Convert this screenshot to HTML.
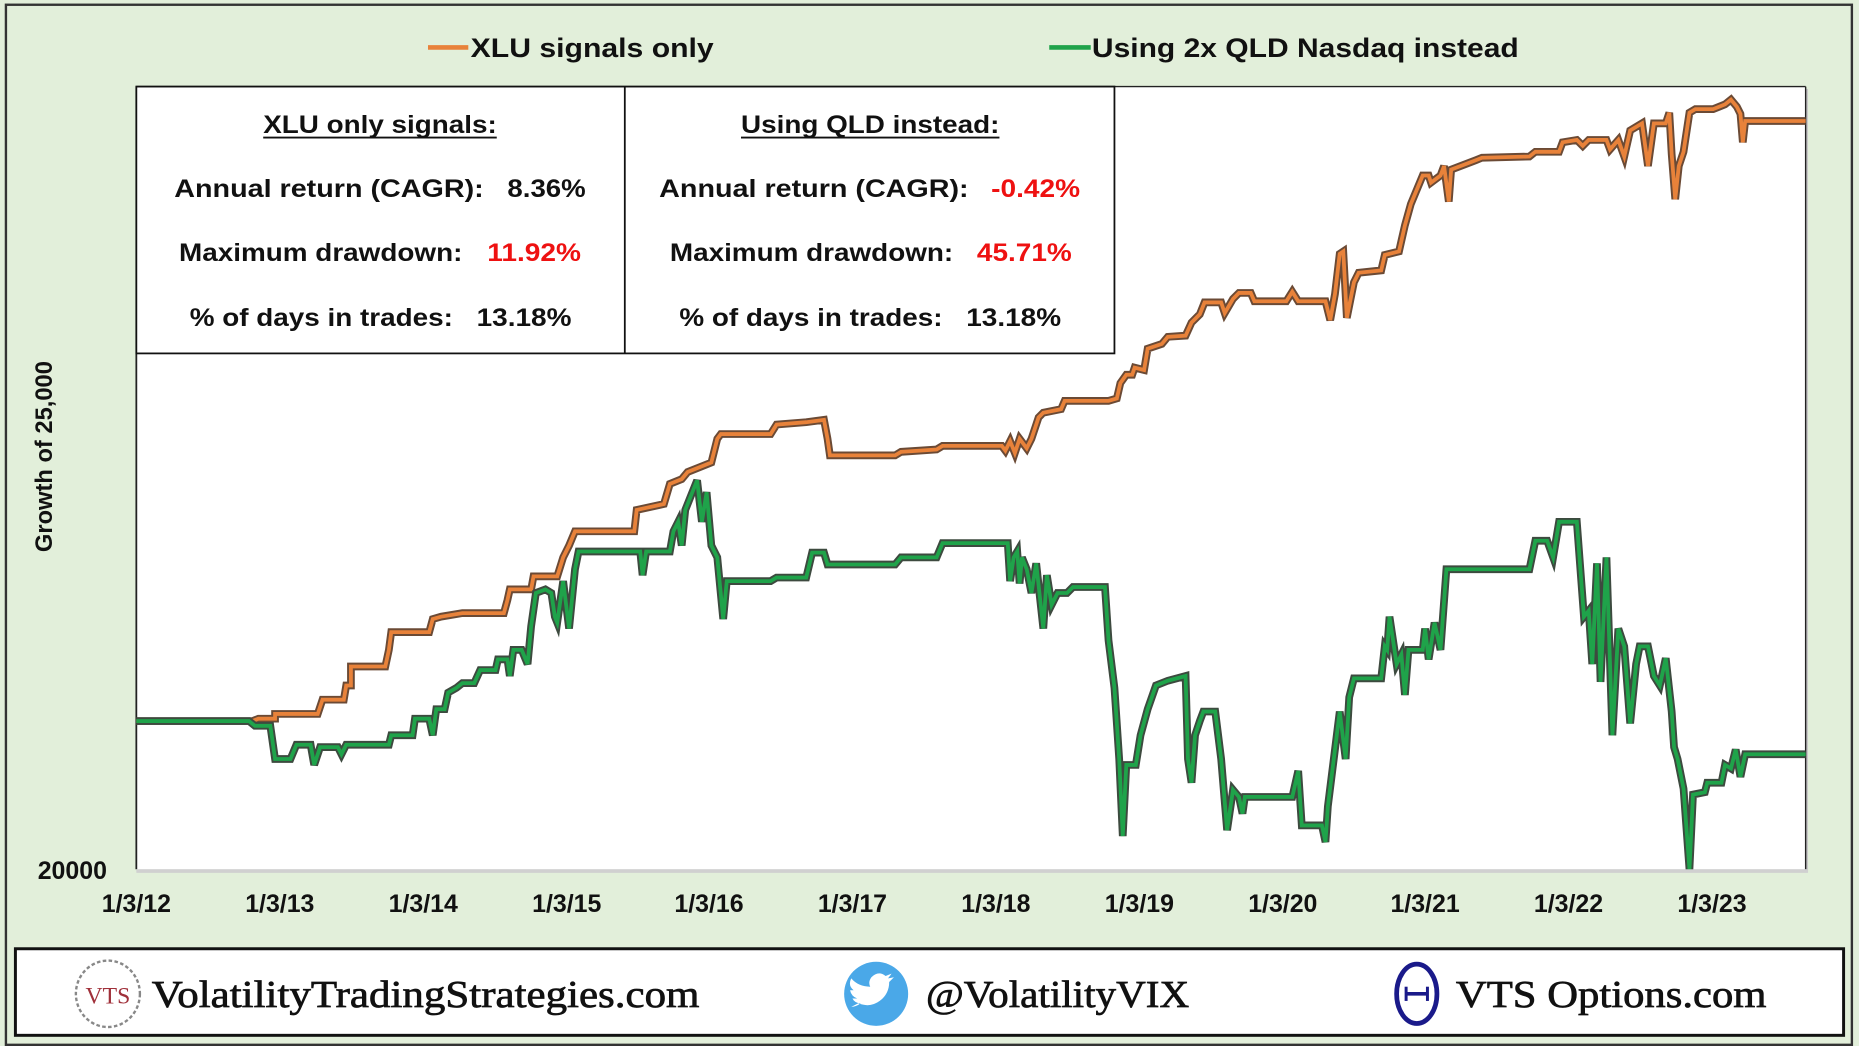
<!DOCTYPE html>
<html><head><meta charset="utf-8"><style>
html,body{margin:0;padding:0;background:#E2EFDA;}
svg{display:block}
</style></head><body>
<svg width="1859" height="1046" viewBox="0 0 1568 882" preserveAspectRatio="none" xmlns="http://www.w3.org/2000/svg">
<rect x="0" y="0" width="1568" height="882" fill="#E2EFDA"/>
<rect x="5" y="4" width="1557" height="877" fill="none" stroke="#333" stroke-width="2"/>
<rect x="117" y="75" width="1408" height="660" fill="#c8c8c8"/>
<rect x="115" y="73" width="1408" height="660" fill="#fff"/>
<line x1="115" y1="73" x2="115" y2="733" stroke="#222" stroke-width="1.5"/>
<line x1="1523" y1="73" x2="1523" y2="733" stroke="#222" stroke-width="1.2"/>
<line x1="115" y1="73" x2="1523" y2="73" stroke="#222" stroke-width="1.2"/>
<g font-family="Liberation Sans, sans-serif" font-weight="bold" font-size="23" fill="#111">
<line x1="361" y1="40" x2="395" y2="40" stroke="#E8823A" stroke-width="4"/>
<text x="397" y="48" textLength="205" lengthAdjust="spacingAndGlyphs">XLU signals only</text>
<line x1="885" y1="40" x2="920" y2="40" stroke="#1FA34A" stroke-width="4"/>
<text x="921" y="48" textLength="360" lengthAdjust="spacingAndGlyphs">Using 2x QLD Nasdaq instead</text>
</g>
<g fill="none" stroke-linejoin="miter" stroke-linecap="butt">
<polyline stroke="#6b4a35" stroke-width="6.5" points="115,608 213,608 218,606 232,606 232,602 268,602 272,590 290,590 292,578 296,578 296,562 325,562 328,548 330,533 362,533 365,522 372,520 390,517 425,517 428,506 430,497 448,497 450,486 470,486 475,470 480,460 485,448 535,448 537,430 560,425 565,408 575,404 580,398 600,390 605,370 608,366 650,366 655,358 680,356 695,354 698,370 700,384 755,384 760,381 790,379 795,376 845,376 848,380 852,372 856,382 860,370 866,378 870,370 876,352 880,348 895,345 898,338 935,338 942,336 945,323 950,316 955,316 957,310 965,312 968,294 980,290 985,284 1000,283 1005,272 1012,265 1016,255 1030,255 1033,264 1040,252 1045,247 1055,247 1058,254 1085,254 1090,246 1095,254 1118,254 1122,270 1126,248 1130,214 1133,212 1136,268 1142,238 1146,230 1165,228 1168,215 1180,212 1185,190 1190,172 1195,160 1200,148 1205,148 1207,154 1215,148 1218,140 1222,170 1224,143 1245,135 1250,133 1290,132 1295,128 1315,128 1318,120 1330,118 1335,123 1340,118 1355,118 1358,126 1365,118 1370,132 1375,110 1385,104 1390,140 1395,104 1405,104 1408,95 1410,130 1413,168 1416,140 1420,128 1425,95 1430,92 1445,92 1450,90 1455,88 1460,84 1465,90 1468,96 1470,120 1472,102 1523,102"/>
<polyline stroke="#E8823A" stroke-width="3.2" points="115,608 213,608 218,606 232,606 232,602 268,602 272,590 290,590 292,578 296,578 296,562 325,562 328,548 330,533 362,533 365,522 372,520 390,517 425,517 428,506 430,497 448,497 450,486 470,486 475,470 480,460 485,448 535,448 537,430 560,425 565,408 575,404 580,398 600,390 605,370 608,366 650,366 655,358 680,356 695,354 698,370 700,384 755,384 760,381 790,379 795,376 845,376 848,380 852,372 856,382 860,370 866,378 870,370 876,352 880,348 895,345 898,338 935,338 942,336 945,323 950,316 955,316 957,310 965,312 968,294 980,290 985,284 1000,283 1005,272 1012,265 1016,255 1030,255 1033,264 1040,252 1045,247 1055,247 1058,254 1085,254 1090,246 1095,254 1118,254 1122,270 1126,248 1130,214 1133,212 1136,268 1142,238 1146,230 1165,228 1168,215 1180,212 1185,190 1190,172 1195,160 1200,148 1205,148 1207,154 1215,148 1218,140 1222,170 1224,143 1245,135 1250,133 1290,132 1295,128 1315,128 1318,120 1330,118 1335,123 1340,118 1355,118 1358,126 1365,118 1370,132 1375,110 1385,104 1390,140 1395,104 1405,104 1408,95 1410,130 1413,168 1416,140 1420,128 1425,95 1430,92 1445,92 1450,90 1455,88 1460,84 1465,90 1468,96 1470,120 1472,102 1523,102"/>
<polyline stroke="#3d4a3f" stroke-width="6.5" points="115,608 210,608 215,612 228,612 232,640 245,640 250,628 262,628 265,645 270,630 285,630 288,636 292,628 328,628 330,620 348,620 350,606 362,606 365,620 368,598 375,598 378,584 385,580 390,576 400,576 405,565 418,565 420,556 428,556 430,570 433,548 440,548 445,560 448,528 452,500 460,497 465,500 468,520 470,525 475,490 480,530 485,480 488,465 540,465 542,485 545,465 565,465 568,448 572,440 575,460 578,430 582,420 588,405 592,440 596,415 600,460 605,470 610,522 613,490 650,490 655,487 680,487 685,466 695,466 698,476 755,476 760,470 790,470 795,458 850,458 852,490 855,470 858,465 860,492 862,470 866,480 870,500 874,475 880,530 883,485 887,510 892,500 900,500 905,495 932,495 935,540 940,580 944,640 947,705 950,645 958,645 962,620 968,598 975,578 985,574 1000,570 1002,640 1005,660 1008,620 1012,608 1015,600 1025,600 1030,640 1035,700 1040,666 1045,672 1048,686 1050,672 1090,672 1095,650 1098,696 1115,696 1118,710 1120,680 1125,640 1130,600 1135,640 1138,588 1142,572 1165,572 1168,545 1170,548 1172,520 1178,560 1182,552 1185,586 1188,548 1200,548 1202,530 1205,556 1210,525 1215,548 1220,480 1290,480 1295,456 1305,456 1310,470 1315,440 1330,440 1333,480 1336,520 1340,515 1343,560 1347,475 1350,575 1355,470 1360,620 1365,530 1370,545 1375,610 1380,560 1383,545 1390,545 1395,570 1400,578 1405,555 1410,600 1412,630 1415,640 1420,665 1425,733 1428,670 1438,668 1440,660 1452,660 1455,645 1460,648 1464,632 1468,655 1472,636 1523,636"/>
<polyline stroke="#1FA34A" stroke-width="3.2" points="115,608 210,608 215,612 228,612 232,640 245,640 250,628 262,628 265,645 270,630 285,630 288,636 292,628 328,628 330,620 348,620 350,606 362,606 365,620 368,598 375,598 378,584 385,580 390,576 400,576 405,565 418,565 420,556 428,556 430,570 433,548 440,548 445,560 448,528 452,500 460,497 465,500 468,520 470,525 475,490 480,530 485,480 488,465 540,465 542,485 545,465 565,465 568,448 572,440 575,460 578,430 582,420 588,405 592,440 596,415 600,460 605,470 610,522 613,490 650,490 655,487 680,487 685,466 695,466 698,476 755,476 760,470 790,470 795,458 850,458 852,490 855,470 858,465 860,492 862,470 866,480 870,500 874,475 880,530 883,485 887,510 892,500 900,500 905,495 932,495 935,540 940,580 944,640 947,705 950,645 958,645 962,620 968,598 975,578 985,574 1000,570 1002,640 1005,660 1008,620 1012,608 1015,600 1025,600 1030,640 1035,700 1040,666 1045,672 1048,686 1050,672 1090,672 1095,650 1098,696 1115,696 1118,710 1120,680 1125,640 1130,600 1135,640 1138,588 1142,572 1165,572 1168,545 1170,548 1172,520 1178,560 1182,552 1185,586 1188,548 1200,548 1202,530 1205,556 1210,525 1215,548 1220,480 1290,480 1295,456 1305,456 1310,470 1315,440 1330,440 1333,480 1336,520 1340,515 1343,560 1347,475 1350,575 1355,470 1360,620 1365,530 1370,545 1375,610 1380,560 1383,545 1390,545 1395,570 1400,578 1405,555 1410,600 1412,630 1415,640 1420,665 1425,733 1428,670 1438,668 1440,660 1452,660 1455,645 1460,648 1464,632 1468,655 1472,636 1523,636"/>
</g>
<rect x="115" y="733" width="1410" height="3" fill="#d0d0d0"/>
<rect x="115" y="73" width="825" height="225" fill="#fff" stroke="#111" stroke-width="1.5"/>
<line x1="527" y1="73" x2="527" y2="298" stroke="#111" stroke-width="1.5"/>
<g font-family="Liberation Sans, sans-serif" font-weight="bold" font-size="21" fill="#111" lengthAdjust="spacingAndGlyphs">
<text x="222" y="112" textLength="197" lengthAdjust="spacingAndGlyphs">XLU only signals:</text>
<line x1="222" y1="116" x2="419" y2="116" stroke="#111" stroke-width="1.6"/>
<text x="625" y="112" textLength="218" lengthAdjust="spacingAndGlyphs">Using QLD instead:</text>
<line x1="625" y1="116" x2="843" y2="116" stroke="#111" stroke-width="1.6"/>
<text x="147" y="166" textLength="261" lengthAdjust="spacingAndGlyphs">Annual return  (CAGR):</text>
<text x="428" y="166" textLength="66" lengthAdjust="spacingAndGlyphs">8.36%</text>
<text x="151" y="220" textLength="239" lengthAdjust="spacingAndGlyphs">Maximum drawdown:</text>
<text x="411" y="220" fill="#EE1111" textLength="79" lengthAdjust="spacingAndGlyphs">11.92%</text>
<text x="160" y="275" textLength="222" lengthAdjust="spacingAndGlyphs">% of days in trades:</text>
<text x="402" y="275" textLength="80" lengthAdjust="spacingAndGlyphs">13.18%</text>
<text x="556" y="166" textLength="261" lengthAdjust="spacingAndGlyphs">Annual return  (CAGR):</text>
<text x="836" y="166" fill="#EE1111" textLength="75" lengthAdjust="spacingAndGlyphs">-0.42%</text>
<text x="565" y="220" textLength="239" lengthAdjust="spacingAndGlyphs">Maximum drawdown:</text>
<text x="824" y="220" fill="#EE1111" textLength="80" lengthAdjust="spacingAndGlyphs">45.71%</text>
<text x="573" y="275" textLength="222" lengthAdjust="spacingAndGlyphs">% of days in trades:</text>
<text x="815" y="275" textLength="80" lengthAdjust="spacingAndGlyphs">13.18%</text>
</g>
<g font-family="Liberation Sans, sans-serif" font-weight="bold" font-size="21" fill="#111" text-anchor="middle">
<text x="61" y="741">20000</text>
<text x="115" y="769">1/3/12</text><text x="236" y="769">1/3/13</text><text x="357" y="769">1/3/14</text>
<text x="478" y="769">1/3/15</text><text x="598" y="769">1/3/16</text><text x="719" y="769">1/3/17</text>
<text x="840" y="769">1/3/18</text><text x="961" y="769">1/3/19</text><text x="1082" y="769">1/3/20</text>
<text x="1202" y="769">1/3/21</text><text x="1323" y="769">1/3/22</text><text x="1444" y="769">1/3/23</text>
<text transform="translate(44,385) rotate(-90)" font-size="20">Growth of 25,000</text>
</g>
<rect x="13" y="800" width="1542" height="73" fill="#fff" stroke="#111" stroke-width="2.5"/>
<ellipse cx="91" cy="838" rx="27" ry="28" fill="none" stroke="#888" stroke-width="2" stroke-dasharray="3 2"/>
<text x="91" y="846" font-family="Liberation Serif, serif" font-size="20" fill="#a0303a" text-anchor="middle">VTS</text>
<g font-family="Liberation Serif, serif" font-size="32" fill="#111" stroke="#111" stroke-width="0.6">
<text x="128" y="849" textLength="462" lengthAdjust="spacingAndGlyphs">VolatilityTradingStrategies.com</text>
<text x="781" y="849" textLength="222" lengthAdjust="spacingAndGlyphs">@VolatilityVIX</text>
<text x="1228" y="849" textLength="262" lengthAdjust="spacingAndGlyphs">VTS Options.com</text>
</g>
<circle cx="739" cy="838" r="27" fill="#4AA8E8"/>
<path d="M724 846 q10 4 18 -2 q8 -6 8 -16 l4 -4 l-5 1 l3 -4 l-5 2 q-6 -5 -12 1 q-3 4 -1 8 q-10 0 -16 -7 q-3 6 2 10 l-3 0 q1 5 6 7 l-4 0 q2 4 7 4 q-4 3 -8 3z" fill="#fff"/>
<ellipse cx="1195" cy="838" rx="17" ry="25" fill="none" stroke="#1a1a8a" stroke-width="4"/>
<line x1="1186" y1="838" x2="1204" y2="838" stroke="#1a1a8a" stroke-width="3"/>
<line x1="1186" y1="832" x2="1186" y2="844" stroke="#1a1a8a" stroke-width="2.5"/>
<line x1="1204" y1="832" x2="1204" y2="844" stroke="#1a1a8a" stroke-width="2.5"/>
</svg>
</body></html>
